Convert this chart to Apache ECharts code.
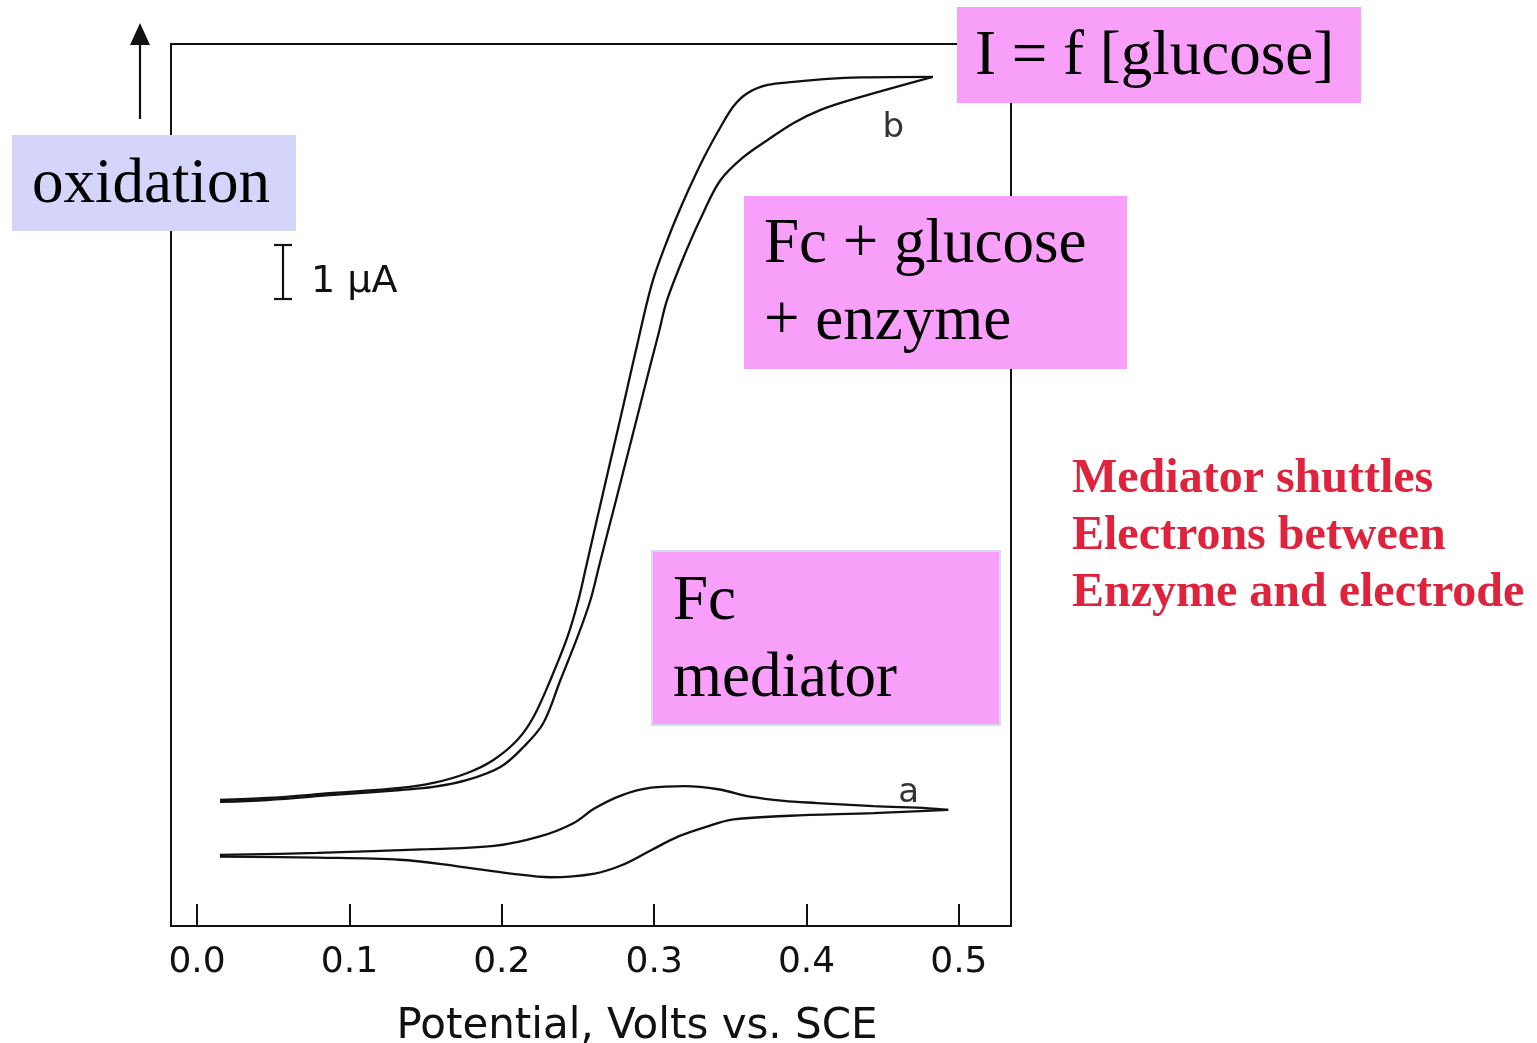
<!DOCTYPE html>
<html>
<head>
<meta charset="utf-8">
<title>Cyclic voltammograms – ferrocene mediator with glucose oxidase</title>
<script src="https://cdn.jsdelivr.net/npm/echarts@6/dist/echarts.min.js"></script>
<style>
  html, body { margin: 0; padding: 0; background: #ffffff; }
  #chart { width: 1537px; height: 1043px; }
</style>
</head>
<body>
<div id="chart"></div>
<script>
// Potential axis ticks (V vs. SCE) and their printed labels
const potentialTicks = [0, 0.1, 0.2, 0.3, 0.4, 0.5];
const potentialTickLabels = ['0.0', '0.1', '0.2', '0.3', '0.4', '0.5'];

// Curve b: Fc + glucose + enzyme (catalytic wave), current in µA above the frame bottom
const bUpperE = [0.0151, 0.0460, 0.0894, 0.1334, 0.1551, 0.1774, 0.1945, 0.2102, 0.2208, 0.2319, 0.2431, 0.2503, 0.2553, 0.2604, 0.2654, 0.2704, 0.2756, 0.2806, 0.2846, 0.2896, 0.2957, 0.3003, 0.3062, 0.3134, 0.3219, 0.3325, 0.3436, 0.3522, 0.3614, 0.3745, 0.3916, 0.4139, 0.4356, 0.4829];
const bUpperI = [2.377, 2.415, 2.509, 2.604, 2.698, 2.887, 3.132, 3.509, 3.943, 4.642, 5.453, 6.151, 6.774, 7.415, 8.038, 8.660, 9.302, 9.925, 10.434, 11.057, 11.811, 12.283, 12.755, 13.283, 13.849, 14.491, 15.075, 15.472, 15.717, 15.868, 15.925, 15.981, 16.009, 16.019];
const bLowerE = [0.0151, 0.0460, 0.0894, 0.1334, 0.1551, 0.1774, 0.1991, 0.2142, 0.2273, 0.2385, 0.2497, 0.2582, 0.2637, 0.2694, 0.2750, 0.2805, 0.2862, 0.2917, 0.2972, 0.3030, 0.3085, 0.3213, 0.3325, 0.3436, 0.3587, 0.3745, 0.3916, 0.4093, 0.4290, 0.4829];
const bLowerI = [2.340, 2.377, 2.472, 2.566, 2.623, 2.755, 3.000, 3.377, 3.830, 4.642, 5.453, 6.151, 6.774, 7.415, 8.038, 8.660, 9.302, 9.925, 10.547, 11.189, 11.811, 12.755, 13.472, 14.075, 14.509, 14.830, 15.151, 15.396, 15.585, 16.019];

// Curve a: Fc mediator alone (reversible redox couple)
const aUpperE = [0.015, 0.079, 0.152, 0.195, 0.225, 0.247, 0.261, 0.279, 0.298, 0.320, 0.342, 0.363, 0.385, 0.407, 0.444, 0.480, 0.493];
const aUpperI = [1.34, 1.38, 1.45, 1.51, 1.69, 1.94, 2.22, 2.47, 2.61, 2.64, 2.58, 2.44, 2.36, 2.32, 2.26, 2.22, 2.19];
const aLowerE = [0.015, 0.079, 0.133, 0.170, 0.206, 0.232, 0.261, 0.279, 0.298, 0.316, 0.334, 0.352, 0.389, 0.444, 0.493];
const aLowerI = [1.31, 1.29, 1.25, 1.13, 0.99, 0.92, 0.99, 1.15, 1.43, 1.69, 1.87, 2.01, 2.08, 2.13, 2.19];

// Curve letters, placed in data units
const curveLetters = ['b', 'a'];
const curveLetterE = [0.457, 0.467];
const curveLetterI = [15.05, 2.50];

// Axis ranges: the frame runs a little beyond 0.0–0.5 V
const eMin = -0.0171, eMax = 0.5342;
const iMin = 0, iMax = 16.64;

const zip = (xs, ys) => xs.map((x, k) => [x, ys[k]]);

const ink = '#111111';
const pink = '#f89ff9';
const lavender = '#d5d5fb';
const red = '#e0233d';
const serif = '"Liberation Serif", "Times New Roman", serif';
const sans = '"DejaVu Sans", "Liberation Sans", sans-serif';

const curveStyle = { color: ink, width: 2.3 };
function branch(name, data) {
  return {
    type: 'line', name, data, symbol: 'none', smooth: 0.35,
    lineStyle: curveStyle, silent: true, z: 3
  };
}

// Text placed by its baseline
function textAt(x, baseline, text, size, family, fill, weight) {
  return {
    type: 'text', x, y: baseline - Math.round(size * 0.76), z: 51,
    style: {
      text, fill,
      font: (weight ? weight + ' ' : '') + size + 'px ' + family,
      verticalAlign: 'top', align: 'left'
    }
  };
}

const chart = echarts.init(document.getElementById('chart'), null, { renderer: 'canvas' });

chart.setOption({
  backgroundColor: '#ffffff',
  animation: false,
  grid: {
    left: 171, top: 44, width: 840, height: 882,
    containLabel: false, outerBoundsMode: 'none',
    show: true, borderColor: ink, borderWidth: 2, backgroundColor: 'transparent'
  },
  xAxis: {
    type: 'value', min: eMin, max: eMax,
    name: 'Potential, Volts vs. SCE',
    nameLocation: 'middle', nameGap: 80,
    nameTextStyle: { fontFamily: sans, fontSize: 42, color: ink, padding: [0, 0, 0, 92] },
    axisLine: { show: true, lineStyle: { color: ink, width: 2 } },
    axisTick: { show: true, inside: true, length: 22, customValues: potentialTicks, lineStyle: { color: ink, width: 2 } },
    axisLabel: {
      show: true, customValues: potentialTicks, margin: 19,
      fontFamily: sans, fontSize: 36, color: ink,
      formatter: (v) => {
        let best = 0;
        potentialTicks.forEach((t, k) => { if (Math.abs(t - v) < Math.abs(potentialTicks[best] - v)) best = k; });
        return potentialTickLabels[best];
      }
    },
    splitLine: { show: false }
  },
  yAxis: {
    type: 'value', min: iMin, max: iMax, show: false, splitLine: { show: false }
  },
  series: [
    branch('b-anodic', zip(bUpperE, bUpperI)),
    branch('b-cathodic', zip(bLowerE, bLowerI)),
    branch('a-anodic', zip(aUpperE, aUpperI)),
    branch('a-cathodic', zip(aLowerE, aLowerI)),
    {
      type: 'scatter', name: 'letters', symbolSize: 0, silent: true,
      data: curveLetters.map((t, k) => ({ value: [curveLetterE[k], curveLetterI[k]], name: t })),
      label: {
        show: true, position: 'inside', formatter: (p) => p.name,
        fontFamily: sans, fontSize: 34, color: '#000', textBorderWidth: 0
      }
    }
  ],
  graphic: [
    // "oxidation" direction arrow
    { type: 'line', shape: { x1: 140, y1: 119, x2: 140, y2: 42 }, style: { stroke: ink, lineWidth: 2.2 }, z: 50 },
    { type: 'polygon', shape: { points: [[140, 23], [130, 45], [150, 45]] }, style: { fill: ink }, z: 50 },
    { type: 'rect', shape: { x: 12, y: 135, width: 284, height: 96 }, style: { fill: lavender }, z: 50 },
    textAt(32, 202, 'oxidation', 63, serif, '#000'),

    // 1 µA scale bar
    { type: 'line', shape: { x1: 283, y1: 245, x2: 283, y2: 299 }, style: { stroke: ink, lineWidth: 2.2 }, z: 50 },
    { type: 'line', shape: { x1: 274, y1: 245, x2: 292, y2: 245 }, style: { stroke: ink, lineWidth: 2.2 }, z: 50 },
    { type: 'line', shape: { x1: 274, y1: 299, x2: 292, y2: 299 }, style: { stroke: ink, lineWidth: 2.2 }, z: 50 },
    textAt(311, 292, '1 µA', 38, sans, ink),

    // I = f [glucose]
    { type: 'rect', shape: { x: 957, y: 7, width: 404, height: 96 }, style: { fill: pink }, z: 50 },
    textAt(975, 74, 'I = f [glucose]', 63, serif, '#000'),

    // Fc + glucose + enzyme
    { type: 'rect', shape: { x: 744, y: 196, width: 383, height: 173 }, style: { fill: pink }, z: 50 },
    textAt(764, 262, 'Fc + glucose', 63, serif, '#000'),
    textAt(764, 339, '+ enzyme', 63, serif, '#000'),

    // Fc mediator
    { type: 'rect', shape: { x: 652, y: 551, width: 348, height: 174 }, style: { fill: pink, stroke: '#d6d8fa', lineWidth: 2 }, z: 50 },
    textAt(673, 619, 'Fc', 63, serif, '#000'),
    textAt(673, 696, 'mediator', 63, serif, '#000'),

    // Explanatory note
    textAt(1072, 492, 'Mediator shuttles', 48, serif, red, 'bold'),
    textAt(1072, 549, 'Electrons between', 48, serif, red, 'bold'),
    textAt(1072, 606, 'Enzyme and electrode', 48, serif, red, 'bold')
  ]
});
</script>
</body>
</html>
